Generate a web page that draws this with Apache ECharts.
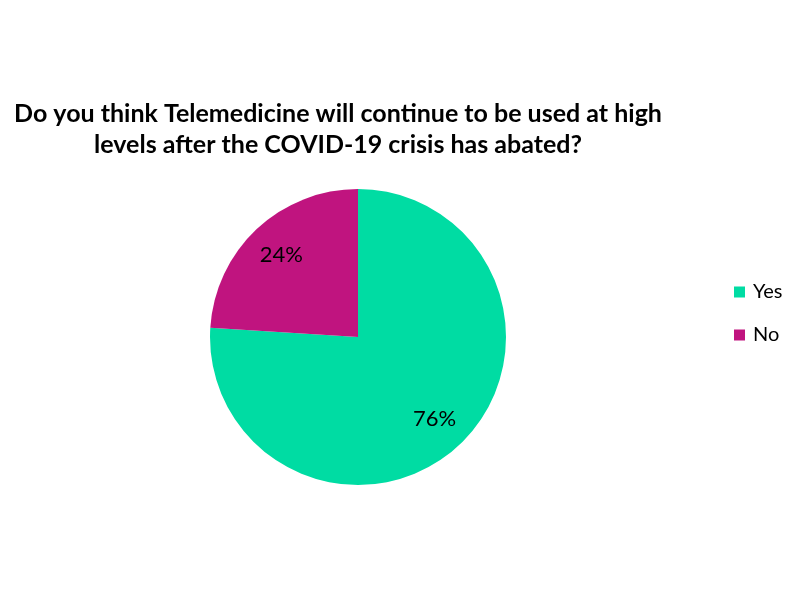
<!DOCTYPE html>
<html><head><meta charset="utf-8">
<script src="https://cdn.jsdelivr.net/npm/echarts@6/dist/echarts.min.js"></script>
<style>html,body{margin:0;padding:0;background:#fff}#c{width:800px;height:600px}</style>
</head><body><div id="c"></div>
<script>
const titleText = 'Do you think Telemedicine will continue to be used at high\nlevels after the COVID-19 crisis has abated?';
const categories = ['Yes', 'No'];
const values = [76, 24];
const colors = ['#00DCA3', '#C0147F'];

const data = categories.map((n, i) => ({ name: n, value: values[i], itemStyle: { color: colors[i] } }));
const labelData = categories.map((n, i) => ({ name: n, value: values[i] }));

const chart = echarts.init(document.getElementById('c'), null, { renderer: 'canvas' });
chart.setOption({
  backgroundColor: '#fff',
  animation: false,
  title: {
    text: titleText,
    left: 333, top: 93, textAlign: 'center',
    textStyle: { fontFamily: 'Lato', fontWeight: 'bold', fontSize: 25, lineHeight: 31, color: '#000' }
  },
  legend: {
    orient: 'vertical', left: 729, top: 277,
    itemWidth: 11, itemHeight: 11, itemGap: 23, icon: 'rect',
    textStyle: { fontFamily: 'Lato', fontSize: 20, color: '#000', padding: [0, 0, 0, 3] },
    data: categories
  },
  series: [
    {
      type: 'pie', center: [358, 337], radius: [0, 148], startAngle: 90, clockwise: true,
      label: { show: false }, labelLine: { show: false }, data: data, silent: true
    },
    {
      type: 'pie', center: [358, 337], radius: [70, 148], startAngle: 90, clockwise: true,
      itemStyle: { color: 'rgba(0,0,0,0)' },
      label: { show: true, position: 'inside', formatter: '{d}%', fontFamily: 'Lato', fontSize: 22, color: '#000' },
      labelLine: { show: false }, data: labelData, silent: true, legendHoverLink: false
    }
  ]
});
</script></body></html>
